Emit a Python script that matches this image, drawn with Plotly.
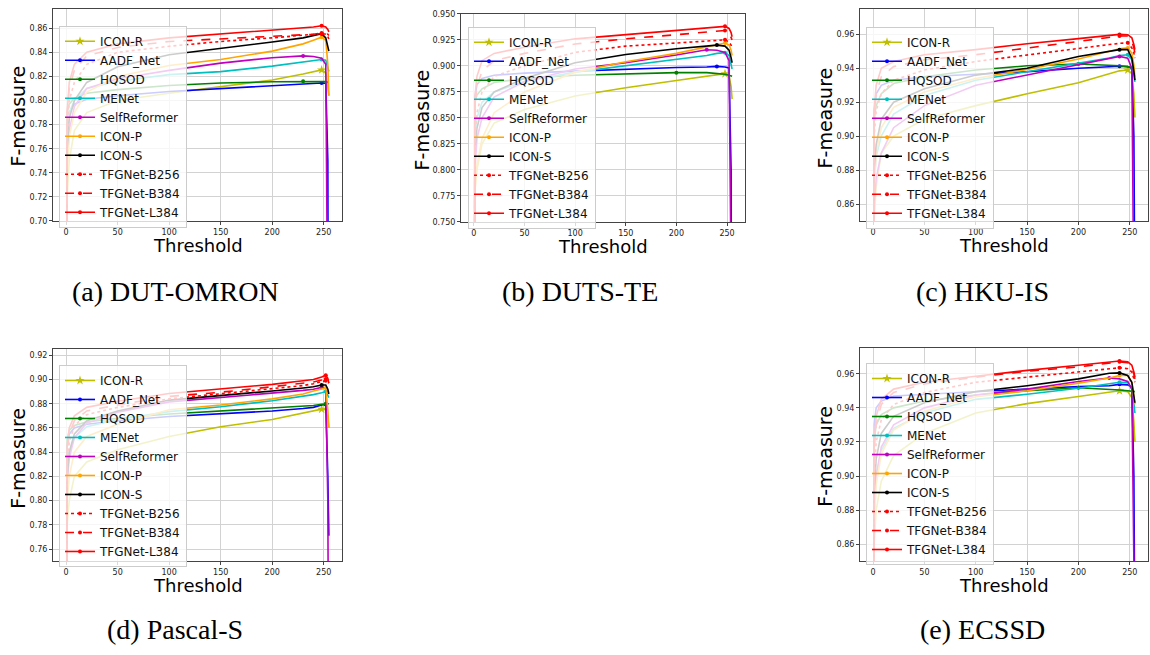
import numpy as np
import plotly.graph_objects as go

# ---------------- data ----------------
THRESHOLDS = [0, 1, 3, 8, 20, 50, 100, 150, 200, 230, 240, 248, 252, 254, 255]
METHODS = ["ICON-R", "AADF_Net", "HQSOD", "MENet", "SelfReformer",
           "ICON-P", "ICON-S", "TFGNet-B256", "TFGNet-B384", "TFGNet-L384"]

# rows follow METHODS order, columns follow THRESHOLDS
DUT_OMRON_F = [
    [0.40, 0.72, 0.75, 0.775, 0.79, 0.80, 0.806, 0.8115, 0.817, 0.822, 0.824, 0.8254, 0.823, 0.812, 0.804],
    [0.40, 0.78, 0.79, 0.797, 0.801, 0.804, 0.8075, 0.810, 0.812, 0.8135, 0.814, 0.8145, 0.8143, 0.75, 0.40],
    [0.40, 0.79, 0.797, 0.802, 0.806, 0.809, 0.8125, 0.8145, 0.8155, 0.816, 0.8158, 0.8157, 0.8157, 0.8155, 0.815],
    [0.40, 0.77, 0.79, 0.80, 0.81, 0.816, 0.8215, 0.824, 0.8285, 0.832, 0.833, 0.834, 0.8335, 0.828, 0.824],
    [0.40, 0.75, 0.775, 0.795, 0.81, 0.818, 0.825, 0.831, 0.8355, 0.837, 0.8365, 0.835, 0.830, 0.60, 0.30],
    [0.40, 0.74, 0.77, 0.79, 0.807, 0.82, 0.829, 0.834, 0.841, 0.847, 0.850, 0.8525, 0.850, 0.830, 0.804],
    [0.40, 0.76, 0.785, 0.80, 0.815, 0.828, 0.838, 0.843, 0.8485, 0.852, 0.854, 0.8555, 0.852, 0.845, 0.841],
    [0.40, 0.77, 0.80, 0.815, 0.83, 0.84, 0.845, 0.849, 0.852, 0.854, 0.855, 0.8555, 0.855, 0.853, 0.851],
    [0.40, 0.79, 0.81, 0.825, 0.837, 0.844, 0.849, 0.851, 0.853, 0.8545, 0.855, 0.856, 0.8555, 0.855, 0.854],
    [0.40, 0.79, 0.815, 0.83, 0.84, 0.847, 0.852, 0.855, 0.858, 0.860, 0.861, 0.862, 0.861, 0.859, 0.857],
]
DUTS_TE_F = [
    [0.40, 0.78, 0.80, 0.825, 0.845, 0.858, 0.871, 0.879, 0.886, 0.8905, 0.892, 0.8925, 0.891, 0.880, 0.868],
    [0.40, 0.87, 0.882, 0.888, 0.891, 0.893, 0.895, 0.897, 0.8985, 0.899, 0.8995, 0.899, 0.898, 0.80, 0.40],
    [0.40, 0.865, 0.872, 0.878, 0.884, 0.888, 0.891, 0.8925, 0.8935, 0.8935, 0.893, 0.892, 0.891, 0.8905, 0.890],
    [0.40, 0.83, 0.85, 0.865, 0.875, 0.885, 0.894, 0.900, 0.906, 0.910, 0.912, 0.9127, 0.910, 0.903, 0.897],
    [0.40, 0.80, 0.83, 0.85, 0.87, 0.885, 0.897, 0.903, 0.9105, 0.9155, 0.915, 0.913, 0.905, 0.70, 0.40],
    [0.40, 0.78, 0.805, 0.83, 0.855, 0.875, 0.894, 0.904, 0.912, 0.918, 0.920, 0.922, 0.920, 0.915, 0.910],
    [0.40, 0.82, 0.84, 0.86, 0.875, 0.888, 0.903, 0.911, 0.9165, 0.919, 0.920, 0.919, 0.915, 0.908, 0.903],
    [0.40, 0.83, 0.855, 0.875, 0.89, 0.90, 0.913, 0.919, 0.922, 0.924, 0.9245, 0.925, 0.923, 0.920, 0.917],
    [0.40, 0.86, 0.88, 0.895, 0.905, 0.912, 0.921, 0.926, 0.930, 0.9325, 0.933, 0.934, 0.932, 0.928, 0.925],
    [0.40, 0.87, 0.89, 0.905, 0.912, 0.918, 0.926, 0.930, 0.934, 0.9365, 0.9375, 0.938, 0.936, 0.932, 0.928],
]
HKU_IS_F = [
    [0.40, 0.85, 0.87, 0.89, 0.90, 0.91, 0.918, 0.925, 0.9315, 0.937, 0.9385, 0.939, 0.937, 0.925, 0.911],
    [0.40, 0.915, 0.925, 0.93, 0.933, 0.935, 0.9365, 0.938, 0.940, 0.941, 0.9412, 0.941, 0.940, 0.90, 0.80],
    [0.40, 0.91, 0.918, 0.925, 0.931, 0.935, 0.939, 0.9415, 0.9425, 0.942, 0.9415, 0.941, 0.9405, 0.9402, 0.940],
    [0.40, 0.87, 0.888, 0.90, 0.913, 0.924, 0.933, 0.938, 0.943, 0.946, 0.9475, 0.948, 0.945, 0.938, 0.932],
    [0.40, 0.86, 0.875, 0.89, 0.905, 0.918, 0.930, 0.936, 0.942, 0.946, 0.947, 0.946, 0.940, 0.80, 0.60],
    [0.40, 0.87, 0.89, 0.905, 0.917, 0.926, 0.934, 0.9393, 0.9455, 0.950, 0.9515, 0.952, 0.949, 0.942, 0.935],
    [0.40, 0.88, 0.895, 0.91, 0.92, 0.928, 0.936, 0.940, 0.947, 0.950, 0.951, 0.951, 0.946, 0.938, 0.933],
    [0.40, 0.90, 0.915, 0.925, 0.933, 0.939, 0.944, 0.948, 0.952, 0.954, 0.9547, 0.955, 0.952, 0.949, 0.946],
    [0.40, 0.91, 0.925, 0.935, 0.941, 0.945, 0.948, 0.952, 0.956, 0.958, 0.959, 0.959, 0.956, 0.952, 0.949],
    [0.40, 0.915, 0.93, 0.94, 0.944, 0.948, 0.951, 0.9545, 0.9575, 0.9595, 0.960, 0.9598, 0.958, 0.954, 0.951],
]
PASCAL_S_F = [
    [0.40, 0.78, 0.80, 0.82, 0.832, 0.842, 0.853, 0.861, 0.867, 0.872, 0.874, 0.8755, 0.875, 0.868, 0.860],
    [0.40, 0.845, 0.855, 0.86, 0.863, 0.866, 0.8695, 0.8715, 0.874, 0.876, 0.877, 0.879, 0.8793, 0.82, 0.771],
    [0.40, 0.85, 0.858, 0.862, 0.865, 0.868, 0.8715, 0.874, 0.876, 0.8775, 0.8785, 0.8795, 0.880, 0.880, 0.880],
    [0.40, 0.82, 0.84, 0.852, 0.861, 0.867, 0.8735, 0.8775, 0.8825, 0.886, 0.8875, 0.889, 0.890, 0.887, 0.885],
    [0.40, 0.815, 0.835, 0.852, 0.864, 0.873, 0.8815, 0.885, 0.889, 0.891, 0.892, 0.8935, 0.893, 0.80, 0.60],
    [0.40, 0.80, 0.82, 0.84, 0.853, 0.863, 0.875, 0.879, 0.884, 0.888, 0.8905, 0.8925, 0.893, 0.875, 0.860],
    [0.40, 0.82, 0.84, 0.855, 0.866, 0.874, 0.883, 0.8865, 0.8905, 0.893, 0.894, 0.8955, 0.8955, 0.892, 0.888],
    [0.40, 0.83, 0.848, 0.862, 0.871, 0.877, 0.884, 0.888, 0.892, 0.895, 0.8965, 0.898, 0.899, 0.898, 0.897],
    [0.40, 0.84, 0.855, 0.866, 0.874, 0.879, 0.886, 0.8895, 0.894, 0.897, 0.898, 0.8995, 0.9005, 0.8995, 0.898],
    [0.40, 0.845, 0.86, 0.87, 0.877, 0.882, 0.8885, 0.892, 0.896, 0.899, 0.900, 0.902, 0.9035, 0.901, 0.897],
]
ECSSD_F = [
    [0.40, 0.86, 0.88, 0.897, 0.912, 0.925, 0.937, 0.9425, 0.9467, 0.9495, 0.950, 0.9495, 0.946, 0.932, 0.920],
    [0.40, 0.93, 0.94, 0.944, 0.947, 0.948, 0.9493, 0.951, 0.9525, 0.953, 0.9538, 0.9535, 0.952, 0.90, 0.80],
    [0.40, 0.92, 0.93, 0.936, 0.94, 0.944, 0.9475, 0.950, 0.9518, 0.951, 0.9505, 0.950, 0.9498, 0.9497, 0.9495],
    [0.40, 0.88, 0.90, 0.915, 0.928, 0.937, 0.945, 0.948, 0.9515, 0.954, 0.955, 0.9548, 0.951, 0.943, 0.937],
    [0.40, 0.88, 0.90, 0.917, 0.93, 0.94, 0.9475, 0.951, 0.9555, 0.9575, 0.957, 0.9555, 0.951, 0.85, 0.60],
    [0.40, 0.87, 0.895, 0.913, 0.927, 0.938, 0.9465, 0.950, 0.9545, 0.9575, 0.959, 0.959, 0.955, 0.948, 0.942],
    [0.40, 0.89, 0.91, 0.925, 0.935, 0.943, 0.9495, 0.953, 0.957, 0.9603, 0.9605, 0.959, 0.955, 0.948, 0.943],
    [0.40, 0.90, 0.92, 0.933, 0.942, 0.949, 0.955, 0.958, 0.961, 0.963, 0.9635, 0.963, 0.961, 0.957, 0.955],
    [0.40, 0.915, 0.93, 0.942, 0.949, 0.954, 0.958, 0.9615, 0.964, 0.966, 0.967, 0.9665, 0.964, 0.960, 0.957],
    [0.40, 0.92, 0.935, 0.945, 0.951, 0.955, 0.9585, 0.962, 0.965, 0.967, 0.9675, 0.967, 0.965, 0.961, 0.958],
]

CAPTIONS = ["(a) DUT-OMRON", "(b) DUTS-TE", "(c) HKU-IS", "(d) Pascal-S", "(e) ECSSD"]
X_TICKS = [0, 50, 100, 150, 200, 250]
Y_TICKS_A = [0.70, 0.72, 0.74, 0.76, 0.78, 0.80, 0.82, 0.84, 0.86]
Y_TICKS_B = [0.750, 0.775, 0.800, 0.825, 0.850, 0.875, 0.900, 0.925, 0.950]
Y_TICKS_C = [0.86, 0.88, 0.90, 0.92, 0.94, 0.96]
Y_TICKS_D = [0.76, 0.78, 0.80, 0.82, 0.84, 0.86, 0.88, 0.90, 0.92]
Y_TICKS_E = [0.86, 0.88, 0.90, 0.92, 0.94, 0.96]

# ---------------- styles ----------------
COLORS = ["#bfbf00", "#0000ff", "#008000", "#00bfbf", "#bf00bf",
          "#ffa500", "#000000", "#ff0000", "#ff0000", "#ff0000"]
DASHES = ["solid"] * 7 + ["dot", "dash", "solid"]
SYMBOLS = ["star"] + ["circle"] * 9
MSIZES = [7] + [4] * 9

W, H = 1150, 655

def px(x):
    return x / W

def py(y):
    return 1 - y / H

PANELS = [
    dict(data=DUT_OMRON_F, box=(53, 342, 5, 220), yr=(0.70, 0.876), yt=Y_TICKS_A, fmt=".2f",
         leg=(59, 22), cap=(175, 292), ylab=(18, 114)),
    dict(data=DUTS_TE_F, box=(461, 745, 10, 221), yr=(0.75, 0.95), yt=Y_TICKS_B, fmt=".3f",
         leg=(468, 23), cap=(580, 292), ylab=(422, 118)),
    dict(data=HKU_IS_F, box=(860, 1148, 5, 220), yr=(0.85, 0.975), yt=Y_TICKS_C, fmt=".2f",
         leg=(866, 23), cap=(982, 292), ylab=(825, 116)),
    dict(data=PASCAL_S_F, box=(53, 342, 350, 565), yr=(0.75, 0.925), yt=Y_TICKS_D, fmt=".2f",
         leg=(59, 366), cap=(175, 634), ylab=(18, 461)),
    dict(data=ECSSD_F, box=(860, 1148, 349, 565), yr=(0.85, 0.975), yt=Y_TICKS_E, fmt=".2f",
         leg=(866, 364), cap=(982, 634), ylab=(825, 459)),
]

fig = go.Figure()
annotations = []
T = np.array(THRESHOLDS)

for i, p in enumerate(PANELS):
    k = "" if i == 0 else str(i + 1)
    xa, ya = "x" + k, "y" + k
    leg = "legend" + k
    L, R, TOP, B = p["box"]
    for j, name in enumerate(METHODS):
        vals = np.array(p["data"][j])
        line = dict(color=COLORS[j], dash=DASHES[j], width=1.6)
        fig.add_trace(go.Scatter(
            x=T, y=vals, mode="lines", line=line, xaxis=xa, yaxis=ya,
            showlegend=False, legendgroup=f"{i}-{name}", legend=leg, name=name))
        m = int(np.argmax(vals))
        fig.add_trace(go.Scatter(
            x=[T[m]], y=[vals[m]], mode="lines+markers", line=line,
            marker=dict(symbol=SYMBOLS[j], size=MSIZES[j], color=COLORS[j]),
            xaxis=xa, yaxis=ya, name=name, legend=leg, legendgroup=f"{i}-{name}",
            showlegend=True))
    axis_common = dict(showgrid=True, gridcolor="#d2d2d2", gridwidth=1,
                       showline=True, linecolor="#444444", linewidth=1, mirror=True,
                       ticks="outside", ticklen=3, tickcolor="#444444",
                       tickfont=dict(family="DejaVu Sans", size=8, color="#222222"),
                       zeroline=False)
    fig.layout["xaxis" + k] = dict(domain=[px(L), px(R)], range=[-12.75, 267.75],
                                   tickvals=X_TICKS, anchor=ya, **axis_common)
    fig.layout["yaxis" + k] = dict(domain=[py(B), py(TOP)], range=list(p["yr"]),
                                   tickvals=p["yt"], tickformat=p["fmt"], anchor=xa,
                                   **axis_common)
    lx, ly = p["leg"]
    fig.layout[leg] = dict(x=px(lx), y=py(ly), xanchor="left", yanchor="top",
                           bgcolor="rgba(255,255,255,0.8)", bordercolor="#cccccc",
                           borderwidth=1, traceorder="normal", tracegroupgap=0,
                           font=dict(family="DejaVu Sans", size=12, color="#111111"),
                           itemwidth=30)
    cx = (L + R) / 2
    annotations.append(dict(text="Threshold", x=px(cx), y=py(B + 25), xref="paper", yref="paper",
                            showarrow=False, xanchor="center", yanchor="middle",
                            font=dict(family="DejaVu Sans", size=18, color="#000000")))
    yx, yy = p["ylab"]
    annotations.append(dict(text="F-measure", x=px(yx), y=py(yy), xref="paper", yref="paper",
                            showarrow=False, xanchor="center", yanchor="middle", textangle=-90,
                            font=dict(family="DejaVu Sans", size=19, color="#000000")))
    capx, capy = p["cap"]
    annotations.append(dict(text=CAPTIONS[i], x=px(capx), y=py(capy), xref="paper", yref="paper",
                            showarrow=False, xanchor="center", yanchor="middle",
                            font=dict(family="Liberation Serif", size=28, color="#000000")))

fig.update_layout(width=W, height=H, margin=dict(l=0, r=0, t=0, b=0),
                  paper_bgcolor="white", plot_bgcolor="white",
                  annotations=annotations, hovermode="closest")

fig.write_html("out.html", config={"displayModeBar": False},
               post_script="document.body.style.margin='0';document.body.style.overflow='hidden';")
